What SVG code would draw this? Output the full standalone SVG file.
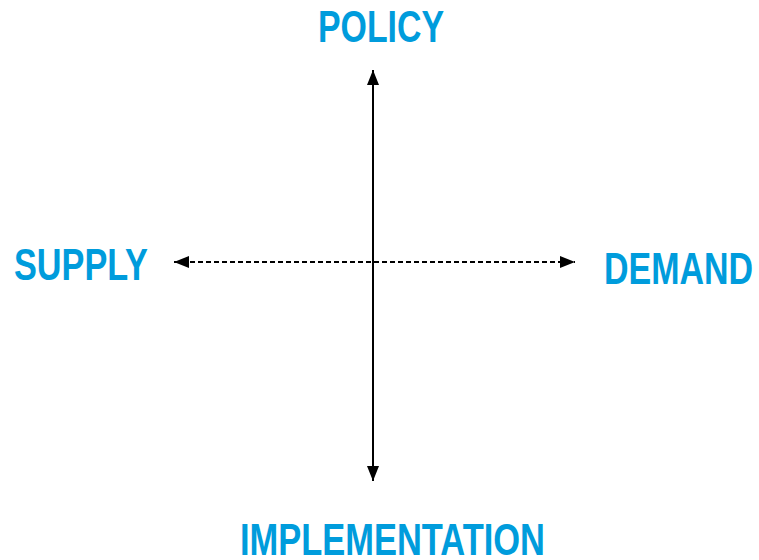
<svg xmlns="http://www.w3.org/2000/svg" width="759" height="560" viewBox="0 0 759 560">
<style>
.lbl{font-family:"Liberation Sans",Arial,sans-serif;font-weight:bold;font-size:44px;fill:#009CDC}
.ax{stroke:#000;stroke-width:2;fill:none}
</style>
<defs>
<marker id="ah" viewBox="0 0 15 12" refX="15" refY="6" markerWidth="15" markerHeight="12" markerUnits="userSpaceOnUse" orient="auto-start-reverse">
<path d="M0,0 L15,6 L0,12 Z" fill="#000"/>
</marker>
</defs>
<g id="connectors">
<line class="ax" x1="373" y1="70" x2="373" y2="481" marker-start="url(#ah)" marker-end="url(#ah)"/>
<line class="ax" x1="174" y1="262" x2="575" y2="262" stroke-dasharray="5,3" marker-start="url(#ah)" marker-end="url(#ah)"/>
</g>
<g id="policy"><text class="lbl" transform="translate(318,42) scale(0.77,1)" x="0" y="0" textLength="163.6" lengthAdjust="spacingAndGlyphs">POLICY</text></g>
<g id="supply"><text class="lbl" transform="translate(14,280) scale(0.77,1)" x="0" y="0" textLength="174" lengthAdjust="spacingAndGlyphs">SUPPLY</text></g>
<g id="demand"><text class="lbl" transform="translate(604,284) scale(0.77,1)" x="0" y="0" textLength="193.5" lengthAdjust="spacingAndGlyphs">DEMAND</text></g>
<g id="implementation"><text class="lbl" transform="translate(240,555) scale(0.77,1)" x="0" y="0" textLength="396" lengthAdjust="spacingAndGlyphs">IMPLEMENTATION</text></g>
</svg>
